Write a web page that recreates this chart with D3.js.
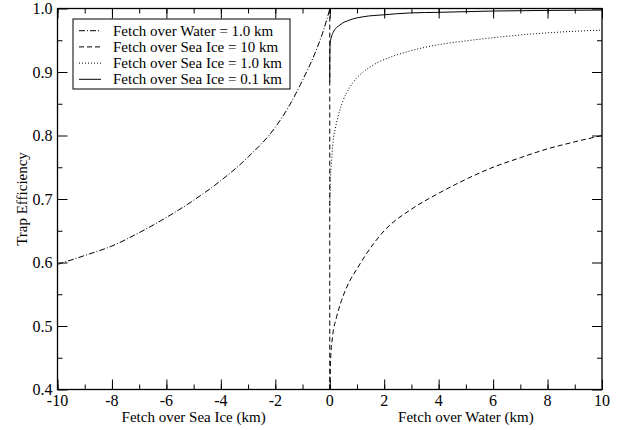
<!DOCTYPE html>
<html>
<head>
<meta charset="utf-8">
<script src="https://cdn.jsdelivr.net/npm/d3@7"></script>
<style>
  body { margin: 0; background: #fff; }
  text { font-family: "Liberation Serif", "Times New Roman", "DejaVu Serif", serif; fill: #000; }
</style>
</head>
<body>
<svg id="drawing_region"></svg>
<script>
// values
var waterOneKm = [
    [-10, 0.597], [-9, 0.611], [-8, 0.626], [-7, 0.647], [-6, 0.671],
    [-5, 0.698], [-4, 0.729], [-3, 0.766], [-2, 0.813], [-1.5, 0.846],
    [-1, 0.887], [-0.5, 0.934], [-0.25, 0.963], [0, 0.999]
];
var iceTenKm = [
    [0, 1.0], [0.0001, 0.397], [0.03, 0.445], [0.1, 0.482], [0.245, 0.513],
    [0.43, 0.540], [0.735, 0.571], [1, 0.590], [1.29, 0.610], [2, 0.650],
    [3, 0.684], [4, 0.709], [5, 0.731], [6, 0.750], [7, 0.765], [8, 0.779],
    [9, 0.790], [10, 0.800]
];
var iceOneKm = [
    [0, 0.68], [0.03, 0.735], [0.06, 0.755], [0.12, 0.790], [0.2, 0.810],
    [0.37, 0.840], [0.49, 0.855], [0.74, 0.876], [0.98, 0.890], [1.23, 0.900],
    [1.72, 0.914], [2.2, 0.923], [2.94, 0.933], [4, 0.943], [5, 0.949],
    [6, 0.954], [7.46, 0.960], [8.5, 0.963], [10, 0.966]
];
var iceTenthKm = [
    [0, 0.884], [0.005, 0.93], [0.02, 0.946], [0.06, 0.955], [0.12, 0.962],
    [0.37, 0.974], [0.74, 0.982], [1.23, 0.987], [1.96, 0.990], [2.94, 0.993],
    [4, 0.994], [6, 0.996], [8, 0.997], [10, 0.9975]
];
var legendLabels = [
    "Fetch over Water = 1.0 km",
    "Fetch over Sea Ice = 10 km",
    "Fetch over Sea Ice = 1.0 km",
    "Fetch over Sea Ice = 0.1 km"
];
var xTickValues = [-10, -8, -6, -4, -2, 0, 2, 4, 6, 8, 10];
var xTickLabels = ["-10", "-8", "-6", "-4", "-2", "0", "2", "4", "6", "8", "10"];
var yTickValues = [0.4, 0.5, 0.6, 0.7, 0.8, 0.9, 1.0];
var yTickLabels = ["0.4", "0.5", "0.6", "0.7", "0.8", "0.9", "1.0"];

var config = {
    width: 619,
    height: 430,
    margin: {top: 8.5, right: 17, bottom: 40.5, left: 57.5}
};

var svg = d3.select('#drawing_region')
    .attr('width', config.width)
    .attr('height', config.height);

var innerW = config.width - config.margin.left - config.margin.right;
var innerH = config.height - config.margin.top - config.margin.bottom;

var chart = svg.append('g')
    .attr('transform', `translate(${config.margin.left}, ${config.margin.top})`);

var x = d3.scaleLinear().domain([-10, 10]).range([0, innerW]);
var y = d3.scaleLinear().domain([0.4, 1.0]).range([innerH, 0]);

chart.append('clipPath').attr('id', 'clip')
    .append('rect').attr('width', innerW).attr('height', innerH);

// ticks on all four sides, pointing inward
var xMinor = d3.range(-10, 10.01, 1);
var yMinor = d3.range(0.45, 1.0, 0.1);

function drawTicks(axis, values, size) {
    chart.append('g')
        .attr('transform', axis.t)
        .call(axis.a.tickValues(values).tickSize(size).tickFormat(''))
        .call(g => g.select('.domain').remove())
        .call(g => g.selectAll('line').attr('stroke', '#000'));
}
drawTicks({a: d3.axisTop(x), t: `translate(0,${innerH})`}, xTickValues, 10);
drawTicks({a: d3.axisTop(x), t: `translate(0,${innerH})`}, xMinor, 5);
drawTicks({a: d3.axisBottom(x), t: 'translate(0,0)'}, xTickValues, 10);
drawTicks({a: d3.axisBottom(x), t: 'translate(0,0)'}, xMinor, 5);
drawTicks({a: d3.axisRight(y), t: 'translate(0,0)'}, yTickValues, 10);
drawTicks({a: d3.axisRight(y), t: 'translate(0,0)'}, yMinor, 5);
drawTicks({a: d3.axisLeft(y), t: `translate(${innerW},0)`}, yTickValues, 10);
drawTicks({a: d3.axisLeft(y), t: `translate(${innerW},0)`}, yMinor, 5);

// tick labels
chart.selectAll('.xlab')
    .data(xTickValues).enter()
    .append('text')
    .attr('x', d => x(d))
    .attr('y', innerH + 16.5)
    .attr('text-anchor', 'middle')
    .style('font-size', '16px')
    .text((d, i) => xTickLabels[i]);

chart.selectAll('.ylab')
    .data(yTickValues).enter()
    .append('text')
    .attr('x', -5)
    .attr('y', d => y(d) + 5.5)
    .attr('text-anchor', 'end')
    .style('font-size', '16px')
    .text((d, i) => yTickLabels[i]);

// axis titles
chart.append('text')
    .attr('x', x(-5)).attr('y', innerH + 32.5)
    .attr('text-anchor', 'middle')
    .style('font-size', '15px')
    .text('Fetch over Sea Ice (km)');

chart.append('text')
    .attr('x', x(5)).attr('y', innerH + 32.5)
    .attr('text-anchor', 'middle')
    .style('font-size', '15px')
    .text('Fetch over Water (km)');

chart.append('text')
    .attr('transform', `translate(-31, ${innerH / 2}) rotate(-90)`)
    .attr('text-anchor', 'middle')
    .style('font-size', '15px')
    .text('Trap Efficiency');

// curves
var series = [
    {data: waterOneKm, dash: '6,2,1,2', color: '#000'},
    {data: iceTenKm, dash: '5,3', color: '#000'},
    {data: iceOneKm, dash: '1,2', color: '#000'},
    {data: iceTenthKm, dash: null, color: '#000'}
];

var line = d3.line()
    .x(d => x(d[0]))
    .y(d => y(d[1]))
    .curve(d3.curveMonotoneX);

chart.append('g').attr('clip-path', 'url(#clip)')
    .selectAll('path')
    .data(series).enter()
    .append('path')
    .attr('d', d => line(d.data))
    .attr('fill', 'none')
    .attr('stroke', d => d.color)
    .attr('stroke-width', 1)
    .attr('stroke-dasharray', d => d.dash);

// frame
chart.append('rect')
    .attr('width', innerW).attr('height', innerH)
    .attr('fill', 'none').attr('stroke', '#000').attr('stroke-width', 1.3);

// legend
var legend = chart.append('g')
    .attr('transform', `translate(${73 - config.margin.left}, ${19 - config.margin.top})`);

legend.append('rect')
    .attr('width', 217).attr('height', 70)
    .attr('fill', '#fff').attr('stroke', '#000');

var item = legend.selectAll('.item')
    .data(series).enter()
    .append('g')
    .attr('transform', (d, i) => `translate(0, ${11.7 + i * 16.2})`);

item.append('line')
    .attr('x1', 6).attr('x2', 28)
    .attr('stroke', d => d.color)
    .attr('stroke-dasharray', d => d.dash);

item.append('text')
    .attr('x', 40).attr('y', 5)
    .style('font-size', '15px')
    .text((d, i) => legendLabels[i]);
</script>
</body>
</html>
